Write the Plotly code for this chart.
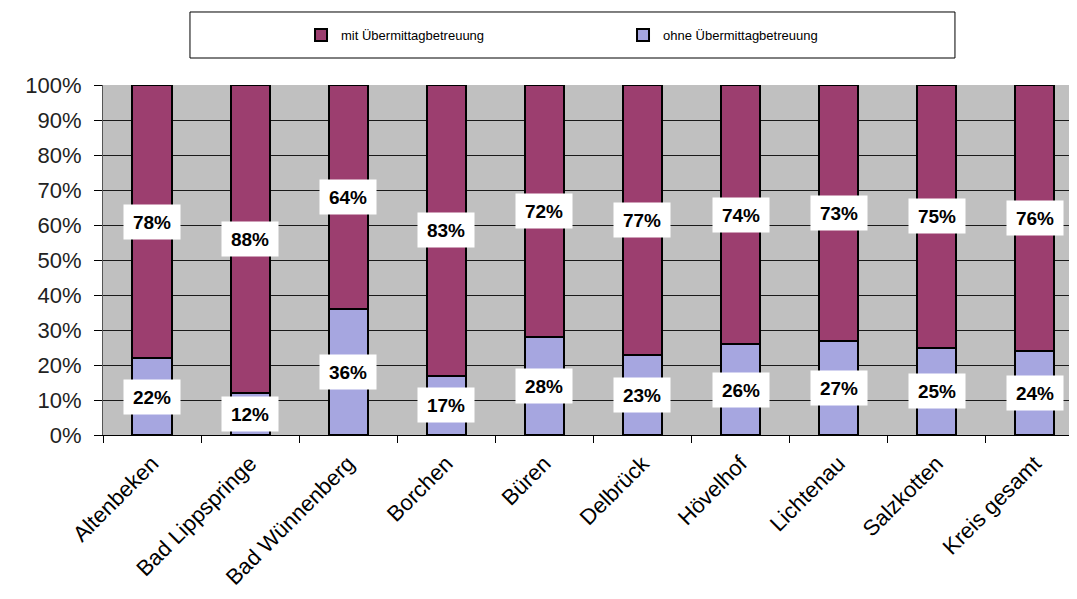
"""Stacked share chart: Übermittagbetreuung per Kommune."""

import plotly.graph_objects as go

CATEGORIES = [
    "Altenbeken", "Bad Lippspringe", "Bad Wünnenberg", "Borchen", "Büren",
    "Delbrück", "Hövelhof", "Lichtenau", "Salzkotten", "Kreis gesamt",
]
OHNE = [22, 12, 36, 17, 28, 23, 26, 27, 25, 24]
MIT = [78, 88, 64, 83, 72, 77, 74, 73, 75, 76]
Y_TICKS = list(range(0, 101, 10))
Y_TICK_LABELS = [f"{t}%" for t in Y_TICKS]

FONT = "Liberation Sans, Arial, sans-serif"
MIT_COLOR = "#9C3E6F"
OHNE_COLOR = "#A6A6E0"

fig = go.Figure()
fig.add_trace(go.Bar(
    x=CATEGORIES, y=OHNE, name="ohne Übermittagbetreuung",
    marker=dict(color=OHNE_COLOR, line=dict(color="black", width=2)),
    width=0.4,
))
fig.add_trace(go.Bar(
    x=CATEGORIES, y=MIT, name="mit Übermittagbetreuung",
    marker=dict(color=MIT_COLOR, line=dict(color="black", width=2)),
    width=0.4,
))

# white value boxes centred on each segment
for cat, o, m in zip(CATEGORIES, OHNE, MIT):
    for val, mid in ((o, o / 2), (m, o + m / 2)):
        fig.add_annotation(
            x=cat, y=mid, text=f"<b>{val}%</b>", showarrow=False,
            bgcolor="white", width=54, height=32,
            font=dict(family=FONT, size=19, color="black"),
        )

# legend frame
fig.add_shape(
    type="rect", xref="paper", yref="paper",
    x0=0.0893, x1=0.8747, y0=1.0771, y1=1.2086,
    line=dict(color="black", width=1), fillcolor="white", layer="below",
)

fig.update_layout(
    width=1069, height=591,
    barmode="stack",
    paper_bgcolor="white",
    plot_bgcolor="#C0C0C0",
    margin=dict(l=95, r=0, t=77, b=164, autoexpand=False),
    font=dict(family=FONT, color="black"),
    legend=dict(
        orientation="h", traceorder="reversed",
        x=0.2033, xanchor="left", y=1.143, yanchor="middle",
        entrywidth=277, entrywidthmode="pixels",
        bgcolor="rgba(0,0,0,0)", font=dict(size=13, family=FONT),
    ),
)
fig.update_xaxes(
    range=[-0.5, 9.43],
    tickangle=-45, tickfont=dict(size=22),
    tickson="boundaries", ticks="outside", ticklen=7, tickcolor="black",
    ticklabelstandoff=6,
    showline=True, linecolor="black", linewidth=1,
    showgrid=False,
)
fig.update_yaxes(
    range=[0, 100], tickvals=Y_TICKS, ticktext=Y_TICK_LABELS,
    tickfont=dict(size=22, color="#222"),
    ticks="outside", ticklen=8, tickcolor="black",
    ticklabelstandoff=8,
    showline=True, linecolor="#555", linewidth=1,
    showgrid=True, gridcolor="#1a1a1a", gridwidth=1,
    zeroline=False,
)

fig.write_html("out.html")
